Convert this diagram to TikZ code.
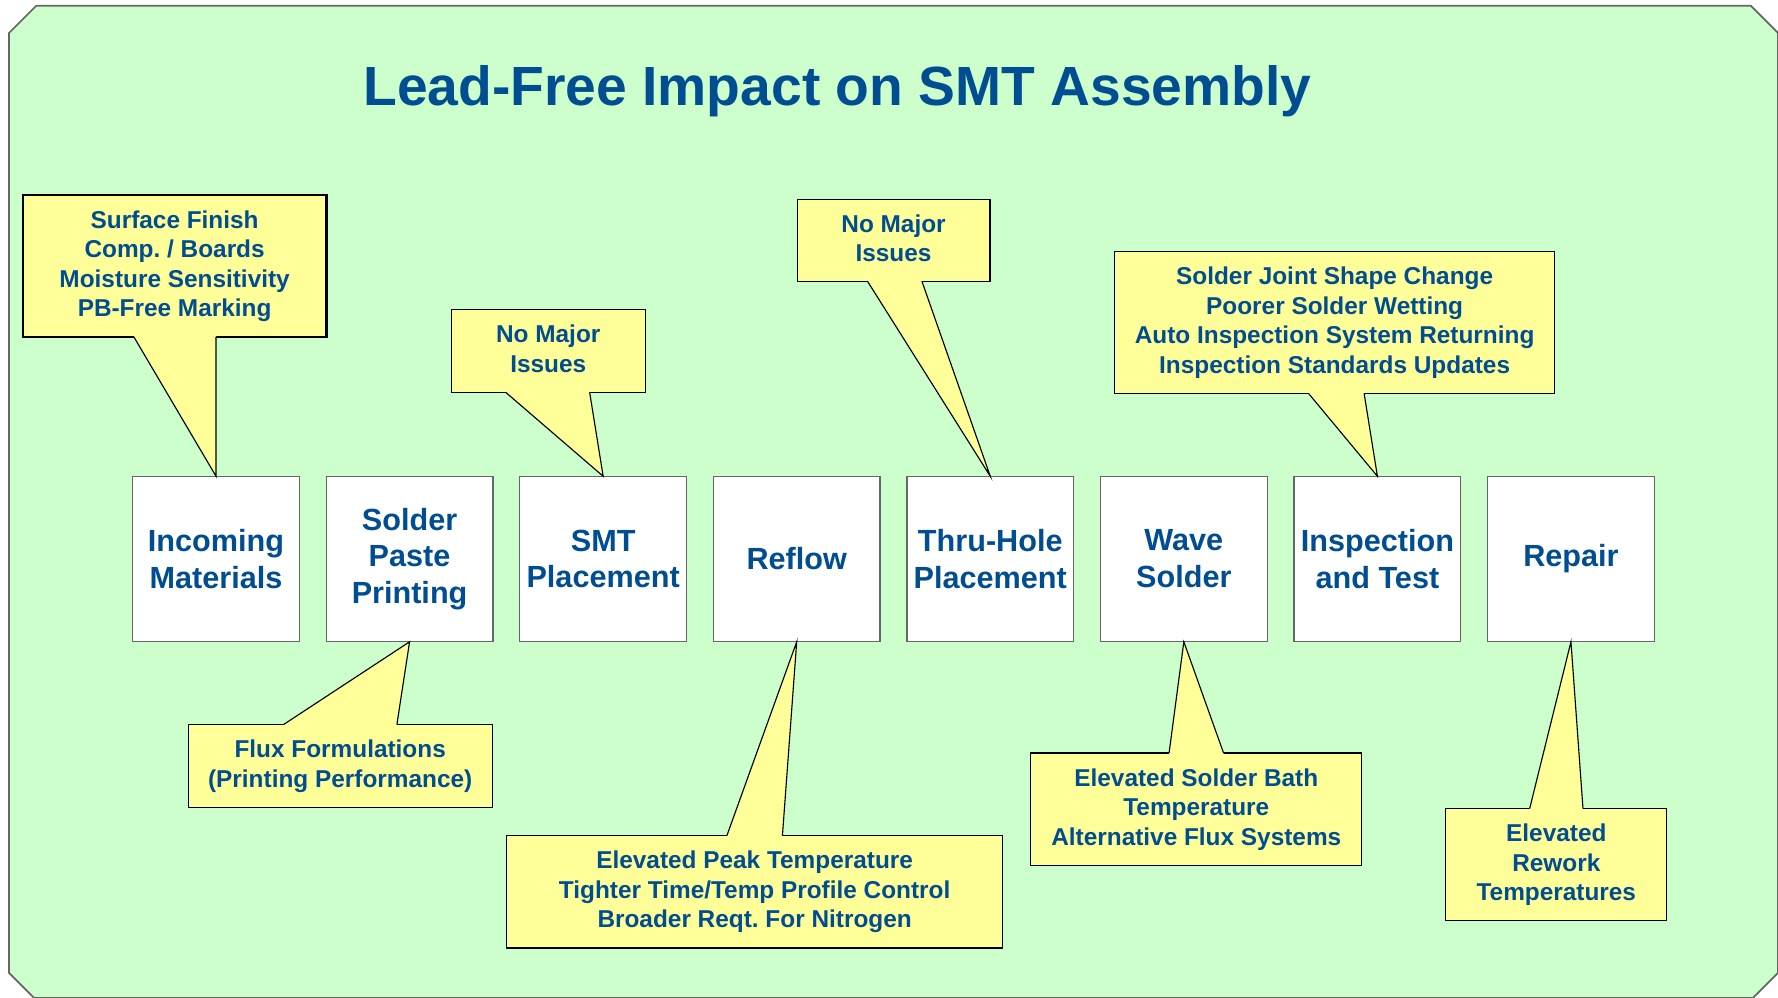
\documentclass[tikz,border=0pt]{standalone}
\usepackage{fontspec}
\setmainfont{Liberation Sans}
\usetikzlibrary{positioning,calc}
\frenchspacing

\definecolor{slidegreen}{HTML}{CCFFCC}
\definecolor{notefill}{HTML}{FFFF99}
\definecolor{textblue}{RGB}{0,77,145}
\definecolor{edgegray}{HTML}{666666}

\tikzset{
  procbox/.style={draw=edgegray, line width=1.2, fill=white, inner sep=0, outer sep=0,
    minimum width=147, minimum height=146, align=center, text=textblue,
    font=\fontsize{27}{32.5}\selectfont\bfseries},
  notebox/.style={draw=black, line width=1, fill=notefill, inner sep=0, outer sep=0,
    align=center, text=textblue, text depth=4pt,
    font=\fontsize{21.5}{26}\selectfont\bfseries},
}

% tail of a note: #1 note, #2 side, #3/#4 x of the base, #5 tip
\newcommand\notetail[5]{%
  \coordinate (tl) at (#3,0 |- #1.#2);
  \coordinate (tr) at (#4,0 |- #1.#2);
  \fill[notefill] ($(tl)!1.5pt!(tl |- #1.center)$) -- (tl) -- (#5) -- (tr)
    -- ($(tr)!1.5pt!(tr |- #1.center)$) -- cycle;
  \draw[line width=1] (tl) -- (#5) -- (tr);
}

\begin{document}
\begin{tikzpicture}[x=1pt, y=-1pt]
\useasboundingbox (0,0) rectangle (1568,880);

\def\gap{23.7}

% slide background
\filldraw[fill=slidegreen, draw=edgegray, line width=1.5]
  (8,29) -- (32,5) -- (1544,5) -- (1568,29) -- (1568,858)
  -- (1546,880) -- (30,880) -- (8,858) -- cycle;

\node[anchor=base, text=textblue, font=\fontsize{48.7}{58}\selectfont\bfseries]
  (title) at (738.5,92.6) {Lead-Free Impact on SMT Assembly};

% process steps
\node[procbox] (inc) at (190.5,493) {Incoming\\Materials};
\node[procbox, right=\gap of inc] (paste) {Solder\\Paste\\Printing};
\node[procbox, right=\gap of paste] (smt) {SMT\\Placement};
\node[procbox, right=\gap of smt] (reflow) {Reflow};
\node[procbox, right=\gap of reflow] (thru) {Thru-Hole\\Placement};
\node[procbox, right=\gap of thru] (wave) {Wave\\Solder};
\node[procbox, right=\gap of wave] (insp) {Inspection\\and Test};
\node[procbox, right=\gap of insp] (repair) {Repair};

% notes above the steps
\node[notebox, line width=2, minimum width=268, minimum height=125] (cinc) at (154,234.5)
  {Surface Finish\\Comp. / Boards\\Moisture Sensitivity\\PB-Free Marking};
\node[notebox, minimum width=171, minimum height=73] (csmt) at (483.5,309.5)
  {No Major\\Issues};
\node[notebox, minimum width=170, minimum height=72] (cthru) at (788,212)
  {No Major\\Issues};
\node[notebox, minimum width=388, minimum height=125] (cinsp) at (1177,284.5)
  {Solder Joint Shape Change\\Poorer Solder Wetting\\Auto Inspection System Returning\\Inspection Standards Updates};

% notes below the steps
\node[notebox, minimum width=268, minimum height=73] (cpaste) at (300,675.5)
  {Flux Formulations\\(Printing Performance)};
\node[notebox, minimum width=437, minimum height=99] (creflow) at (665.5,786.5)
  {Elevated Peak Temperature\\Tighter Time/Temp Profile Control\\Broader Reqt. For Nitrogen};
\node[notebox, minimum width=292, minimum height=99] (cwave) at (1055,713.5)
  {Elevated Solder Bath\\Temperature\\Alternative Flux Systems};
\node[notebox, minimum width=195, minimum height=99] (crepair) at (1372.5,762.5)
  {Elevated\\Rework\\Temperatures};

\notetail{cinc}{south}{118}{190.5}{inc.north}
\notetail{csmt}{south}{446}{520}{smt.north}
\notetail{cthru}{south}{765}{813}{thru.north}
\notetail{cinsp}{south}{1154}{1203}{insp.north}
\notetail{cpaste}{north}{250}{350}{paste.south}
\notetail{creflow}{north}{641}{690}{reflow.south}
\notetail{cwave}{north}{1031}{1079}{wave.south}
\notetail{crepair}{north}{1349}{1396}{repair.south}

\end{tikzpicture}
\end{document}
